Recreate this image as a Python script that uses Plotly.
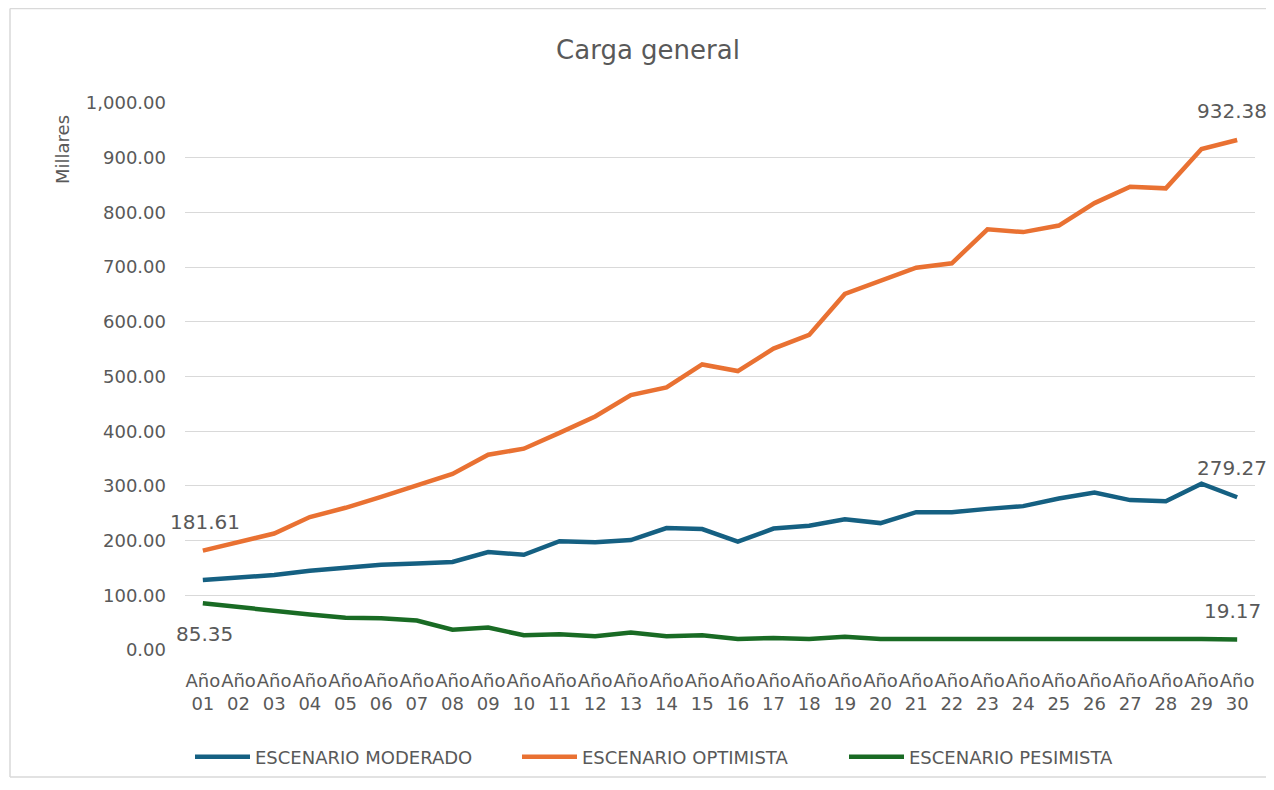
import plotly.graph_objects as go

years = [f"{i:02d}" for i in range(1, 31)]
categories = [f"Año<br>{y}" for y in years]

moderado = [128, 132, 137, 145, 150, 156, 158, 161, 179, 174,
            199, 197, 201, 223, 221, 198, 222, 227, 239, 232,
            252, 252, 258, 263, 277, 288, 274, 272, 304, 279.27]
optimista = [181.61, 197, 213, 243, 260, 280, 302, 322, 357, 368,
             397, 427, 466, 480, 522, 510, 551, 576, 651, 676,
             699, 707, 769, 764, 776, 817, 847, 844, 916, 932.38]
pesimista = [85.35, 78, 71, 65, 59, 58, 54, 37, 41, 27,
             29, 25, 32, 25, 27, 20, 22, 20, 24, 20,
             20, 20, 20, 20, 22, 20, 20, 20, 20, 19.17]

series_names = ["ESCENARIO MODERADO", "ESCENARIO OPTIMISTA", "ESCENARIO PESIMISTA"]
series_values = [moderado, optimista, pesimista]
series_colors = ["#156082", "#E97132", "#196B24"]

y_ticks = [0, 100, 200, 300, 400, 500, 600, 700, 800, 900, 1000]

# data labels: (series index, point index, above?)
labels = [(1, 0, True), (2, 0, False), (1, 29, True), (0, 29, True), (2, 29, True)]

FONT = "DejaVu Sans, sans-serif"
GREY = "#595959"
BORDER = "#D9D9D9"

# figure geometry (page is offset 8px by the default body margin)
W, H = 1266, 782
L, R, T, B = 177, 19, 95, 140
PW, PH = W - L - R, H - T - B


def px_x(px):
    return (px - L) / PW


def px_y(py):
    return (H - B - py) / PH


fig = go.Figure()
for name, vals, col in zip(series_names, series_values, series_colors):
    fig.add_trace(go.Scatter(
        x=categories, y=vals, name=name, mode="lines",
        line=dict(color=col, width=4.5),
    ))

annotations = []
for si, pi, above in labels:
    v = series_values[si][pi]
    annotations.append(dict(
        x=categories[pi], y=v, xref="x", yref="y",
        text=f"{v:,.2f}", showarrow=False,
        yshift=29 if above else -31,
        xshift=-5 if pi == 29 else 2,
        font=dict(family=FONT, size=20, color=GREY),
    ))

annotations.append(dict(
    text="Millares", xref="paper", yref="paper",
    x=px_x(54), y=px_y(142), xanchor="center", yanchor="middle",
    showarrow=False, textangle=-90,
    font=dict(family=FONT, size=18, color=GREY),
))

# chart-area border (left, top, bottom edges; right edge lies outside the view)
bx0, bx1, by0, by1 = px_x(2), px_x(1300), px_y(769), px_y(0.5)
border = [
    dict(type="line", xref="paper", yref="paper", x0=bx0, x1=bx0, y0=by0, y1=by1,
         line=dict(color=BORDER, width=1.5), layer="below"),
    dict(type="line", xref="paper", yref="paper", x0=bx0, x1=bx1, y0=by1, y1=by1,
         line=dict(color=BORDER, width=1.5), layer="below"),
    dict(type="line", xref="paper", yref="paper", x0=bx0, x1=bx1, y0=by0, y1=by0,
         line=dict(color=BORDER, width=1.5), layer="below"),
]

fig.update_layout(
    width=W, height=H,
    margin=dict(l=L, r=R, t=T, b=B),
    paper_bgcolor="white", plot_bgcolor="white",
    title=dict(text="Carga general", x=640 / W, xref="container", xanchor="center",
               y=1 - 42 / H, yref="container", yanchor="middle",
               font=dict(family=FONT, size=26, color=GREY)),
    showlegend=True,
    legend=dict(orientation="h", x=px_x(182), xanchor="left",
                y=px_y(749), yanchor="middle",
                font=dict(family=FONT, size=18, color=GREY),
                itemwidth=55, entrywidth=257, entrywidthmode="pixels",
                traceorder="normal"),
    annotations=annotations,
    shapes=border,
)

fig.update_xaxes(
    type="category", tickangle=0, showgrid=False, zeroline=False,
    showline=False, ticks="", ticklabelstandoff=18,
    tickfont=dict(family=FONT, size=18, color=GREY),
    range=[-0.5, 29.5],
)
fig.update_yaxes(
    range=[0, 1000], tickvals=y_ticks, tickformat=",.2f",
    showgrid=True, gridcolor="#D9D9D9", gridwidth=1, zeroline=False,
    showline=False, ticks="", ticklabelstandoff=18,
    tickfont=dict(family=FONT, size=18, color=GREY),
)

fig.write_html("out.html")
